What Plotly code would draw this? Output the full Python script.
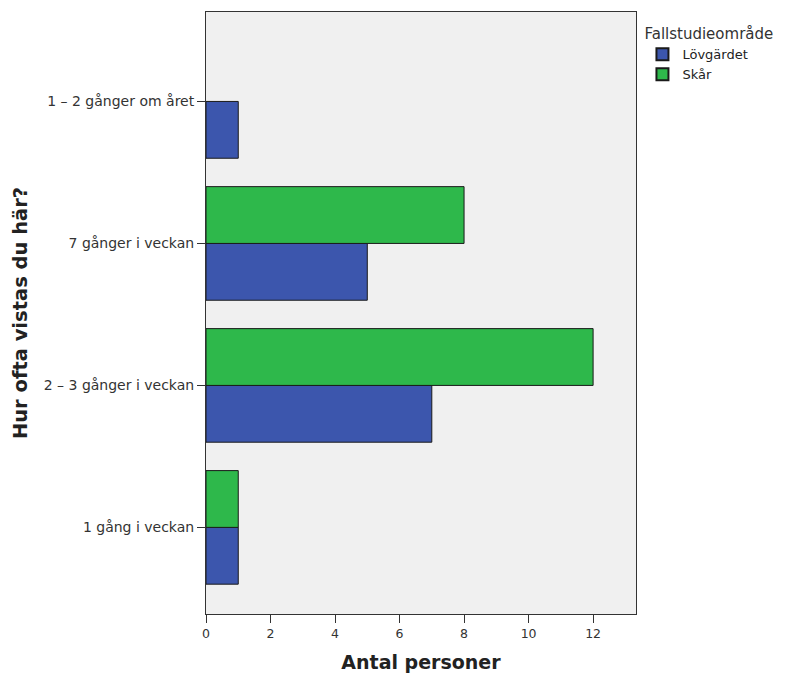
import plotly.graph_objects as go

categories = ["1 gång i veckan", "2 – 3 gånger i veckan", "7 gånger i veckan", "1 – 2 gånger om året"]
lovgardet = [1, 7, 5, 1]
skar = [1, 12, 8, None]
x_ticks = [0, 2, 4, 6, 8, 10, 12]

fig = go.Figure()
fig.add_trace(go.Bar(y=categories, x=lovgardet, orientation="h", name="Lövgärdet",
                     marker=dict(color="#3c56ad", line=dict(color="#1a1a1a", width=1))))
fig.add_trace(go.Bar(y=categories, x=skar, orientation="h", name="Skår",
                     marker=dict(color="#2eb84b", line=dict(color="#1a1a1a", width=1))))

fig.update_layout(
    width=788, height=667,
    margin=dict(l=198, r=160, t=4, b=61),
    paper_bgcolor="white",
    plot_bgcolor="#f0f0f0",
    barmode="group",
    bargap=0.2, bargroupgap=0,
    font=dict(family="DejaVu Sans", color="#222222", size=12),
    showlegend=True,
    legend=dict(
        title=dict(text="Fallstudieområde", font=dict(size=15, color="#333333")),
        x=1.015, xanchor="left", y=0.987, yanchor="top",
        font=dict(size=13, color="#222222"),
        traceorder="normal",
        itemsizing="constant",
        bgcolor="rgba(0,0,0,0)",
    ),
    xaxis=dict(
        range=[0, 13.33], tickvals=x_ticks,
        ticks="outside", ticklen=8, tickcolor="#333333", tickwidth=1,
        showline=True, linecolor="#333333", linewidth=1, mirror=True,
        showgrid=False, zeroline=False,
        title=dict(text="<b>Antal personer</b>", font=dict(size=19, color="#222222"), standoff=15),
        tickfont=dict(size=12.5, color="#333333"),
    ),
    yaxis=dict(
        range=[-0.61, 3.63],
        ticks="outside", ticklen=8, tickcolor="#333333", tickwidth=1,
        showline=True, linecolor="#333333", linewidth=1, mirror=True,
        showgrid=False, zeroline=False,
        title=dict(text="<b>Hur ofta vistas du här?</b>", font=dict(size=19.5, color="#222222"), standoff=10),
        tickfont=dict(size=14, color="#333333"),
    ),
)

fig.write_html("out.html")
